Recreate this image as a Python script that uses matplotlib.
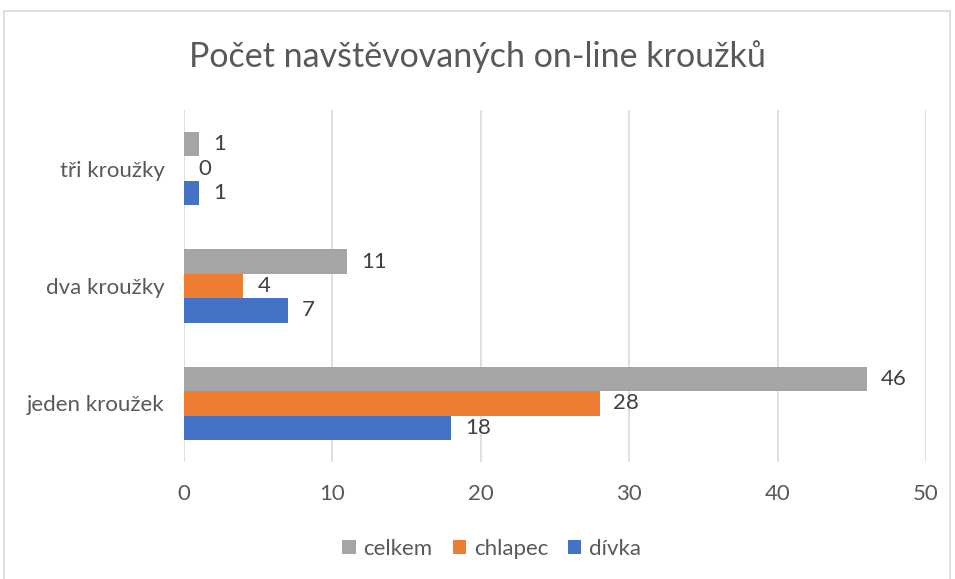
import matplotlib.pyplot as plt
import numpy as np
from matplotlib.patches import Rectangle

categories = ['jeden kroužek', 'dva kroužky', 'tři kroužky']
divka = [18, 7, 1]
chlapec = [28, 4, 0]
celkem = [46, 11, 1]

plt.rcParams['font.family'] = ['Lato', 'DejaVu Sans']

fig = plt.figure(figsize=(9.55, 5.79), dpi=100)
ax = fig.add_axes([0.1927, 0.2021, 0.7769, 0.6079])

# chart border
fig.patches.append(Rectangle((4 / 955, -0.05), 946 / 955, 1.05 - 11 / 579,
                             transform=fig.transFigure, fill=False,
                             edgecolor='#d9d9d9', linewidth=1.2))

y = np.arange(len(categories))
h = 0.208
series = [('dívka', divka, '#4472c4', -h),
          ('chlapec', chlapec, '#ed7d31', 0),
          ('celkem', celkem, '#a5a5a5', h)]

bars = {}
for name, vals, color, off in series:
    b = ax.barh(y + off, vals, height=h, color=color, label=name, zorder=3)
    bars[name] = b
    for yi, v in zip(y + off, vals):
        ax.annotate(str(v), (v, yi), xytext=(10, 0), textcoords='offset points',
                    ha='left', va='center', fontsize=16, color='#404040')

ax.set_xlim(0, 50)
ax.set_ylim(-0.5, 2.5)
ax.set_xticks(range(0, 51, 10))
ax.set_yticks(y)
ax.set_yticklabels(categories)
ax.grid(axis='x', color='#d9d9d9', linewidth=1.2, zorder=0)
for s in ax.spines.values():
    s.set_visible(False)
ax.tick_params(axis='both', length=0, labelsize=16, labelcolor='#595959')
ax.tick_params(axis='x', pad=16)
ax.tick_params(axis='y', pad=14)

fig.text(0.5, 0.902, 'Počet navštěvovaných on-line kroužků', ha='center', va='center',
         fontsize=24.5, color='#595959')

handles = [bars['celkem'], bars['chlapec'], bars['dívka']]
fig.legend(handles, ['celkem', 'chlapec', 'dívka'], loc='center', bbox_to_anchor=(0.515, 0.052),
           ncol=3, frameon=False, fontsize=16, labelcolor='#595959',
           handlelength=0.6, handleheight=0.6, handletextpad=0.35, columnspacing=0.9)

fig.savefig('out.png', dpi=100)
